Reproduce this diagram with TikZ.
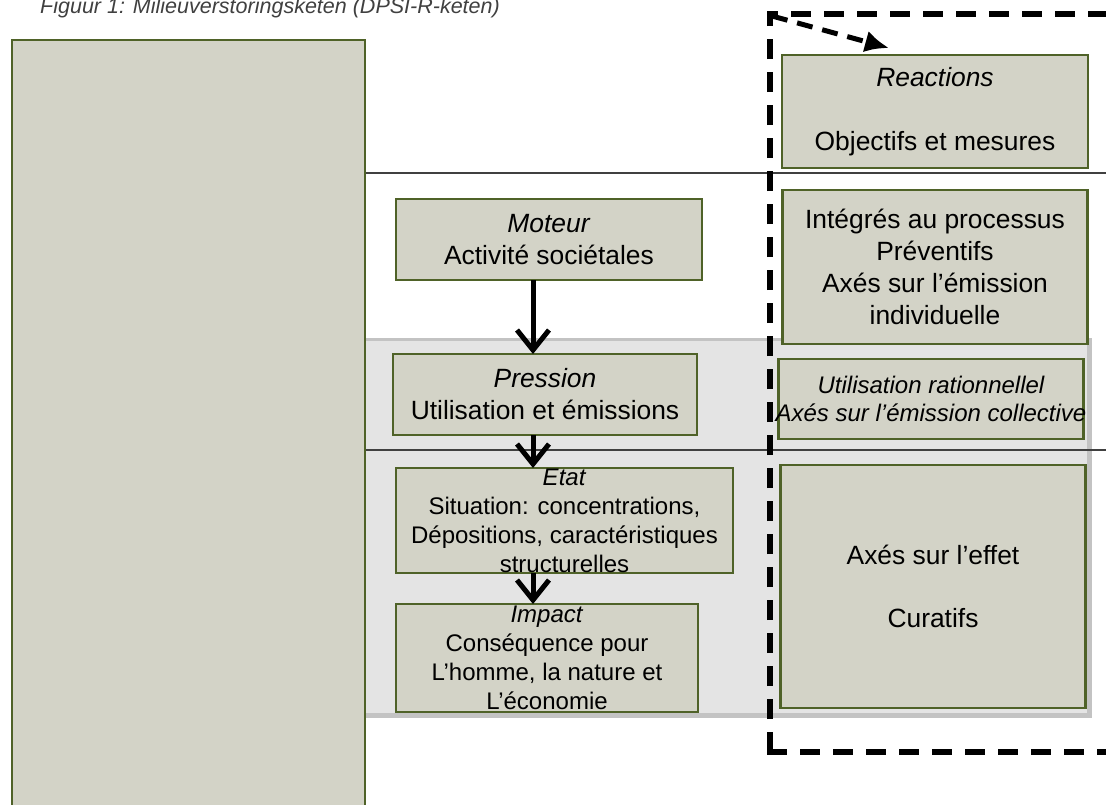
\documentclass[tikz,border=0pt]{standalone}
\usepackage{fontspec}
\setmainfont{Liberation Sans}
\usetikzlibrary{shapes,arrows.meta,positioning,calc}

\definecolor{boxfill}{HTML}{D3D3C7}
\definecolor{boxline}{HTML}{4F6228}
\definecolor{band}{HTML}{E4E4E4}
\definecolor{bandshadow}{HTML}{C3C3C3}
\definecolor{rule}{HTML}{404040}
\definecolor{captiongray}{HTML}{404040}

\begin{document}
\begin{tikzpicture}[
    x=1pt, y=-1pt,
    block/.style={rectangle, draw=boxline, fill=boxfill, line width=2.5pt, inner sep=0pt, outer sep=0pt, align=center, font=\fontsize{26.4}{32}\selectfont},
    smalltext/.style={font=\fontsize{24}{29}\selectfont},
    flow/.style={draw, line width=5pt, -{Straight Barb[length=20pt,width=32pt]}},
    dashframe/.style={draw, line width=6pt, dash pattern=on 20pt off 13pt},
    feedback/.style={draw, line width=5pt, dash pattern=on 16pt off 10pt, -{Latex[length=24pt,width=22pt]}}
]
\useasboundingbox (0,0) rectangle (1106,804);

% Background band and rules
\fill[bandshadow] (12,338) rectangle (1092,718);
\fill[band] (12,341) rectangle (1087,713);
\draw[rule, line width=1.3pt] (12,173) rectangle (1130,450);

% Nodes
\node[block, anchor=north west, minimum width=353pt, minimum height=800pt] (panel) at (12,40) {};

\node[block, minimum width=306pt, minimum height=81pt] (moteur) at (549,239.5) {\textit{Moteur}\\Activité sociétales};
\node[block, minimum width=304pt, minimum height=81pt, below right=74pt and -3pt of moteur.south west] (pression) {\textit{Pression}\\Utilisation et émissions};
\node[block, smalltext, minimum width=337pt, minimum height=105pt, below right=33pt and 3pt of pression.south west] (etat) {\textit{Etat}\\Situation: concentrations,\\Dépositions, caractéristiques\\structurelles};
\node[block, smalltext, minimum width=302pt, minimum height=108pt, below right=31pt and 0pt of etat.south west] (impact) {\textit{Impact}\\Conséquence pour\\L’homme, la nature et\\L’économie};

\node[block, minimum width=306pt, minimum height=113pt] (reac) at (935,111.5) {\textit{Reactions}\\[32pt]Objectifs et mesures};
\node[block, minimum width=305pt, minimum height=154pt, below=22pt of reac] (integ) {Intégrés au processus\\Préventifs\\Axés sur l’émission\\individuelle};
\node[block, minimum width=305pt, minimum height=80pt, inner xsep=-4pt, below=15pt of integ, xshift=-4pt, font=\fontsize{24}{28}\selectfont\itshape] (util) {Utilisation rationnellel\\Axés sur l’émission collective};
\node[block, minimum width=305pt, minimum height=243pt, below=26pt of util, xshift=2pt] (effet) {Axés sur l’effet\\[31pt]Curatifs};

% Connections
\coordinate (axis) at (533,0);
\draw[flow] (axis |- moteur.south) -- (axis |- pression.north);
\draw[flow] (axis |- pression.south) -- (axis |- etat.north);
\draw[flow] (axis |- etat.south) -- (axis |- impact.north);

% Reaction loop
\draw[dashframe] (770,752) -- (770,14) -- (1130,14) (767,752) -- (1130,752);
\coordinate (corner) at (772,16);
\draw[feedback] (corner) -- ([xshift=-46pt,yshift=7pt]reac.north);

% Caption
\node[anchor=base west, inner sep=0pt, text=captiongray, font=\fontsize{21.5}{24}\selectfont\itshape] (caption) at (40,13) {Figuur 1: Milieuverstoringsketen (DPSI-R-keten)};

\end{tikzpicture}
\end{document}
